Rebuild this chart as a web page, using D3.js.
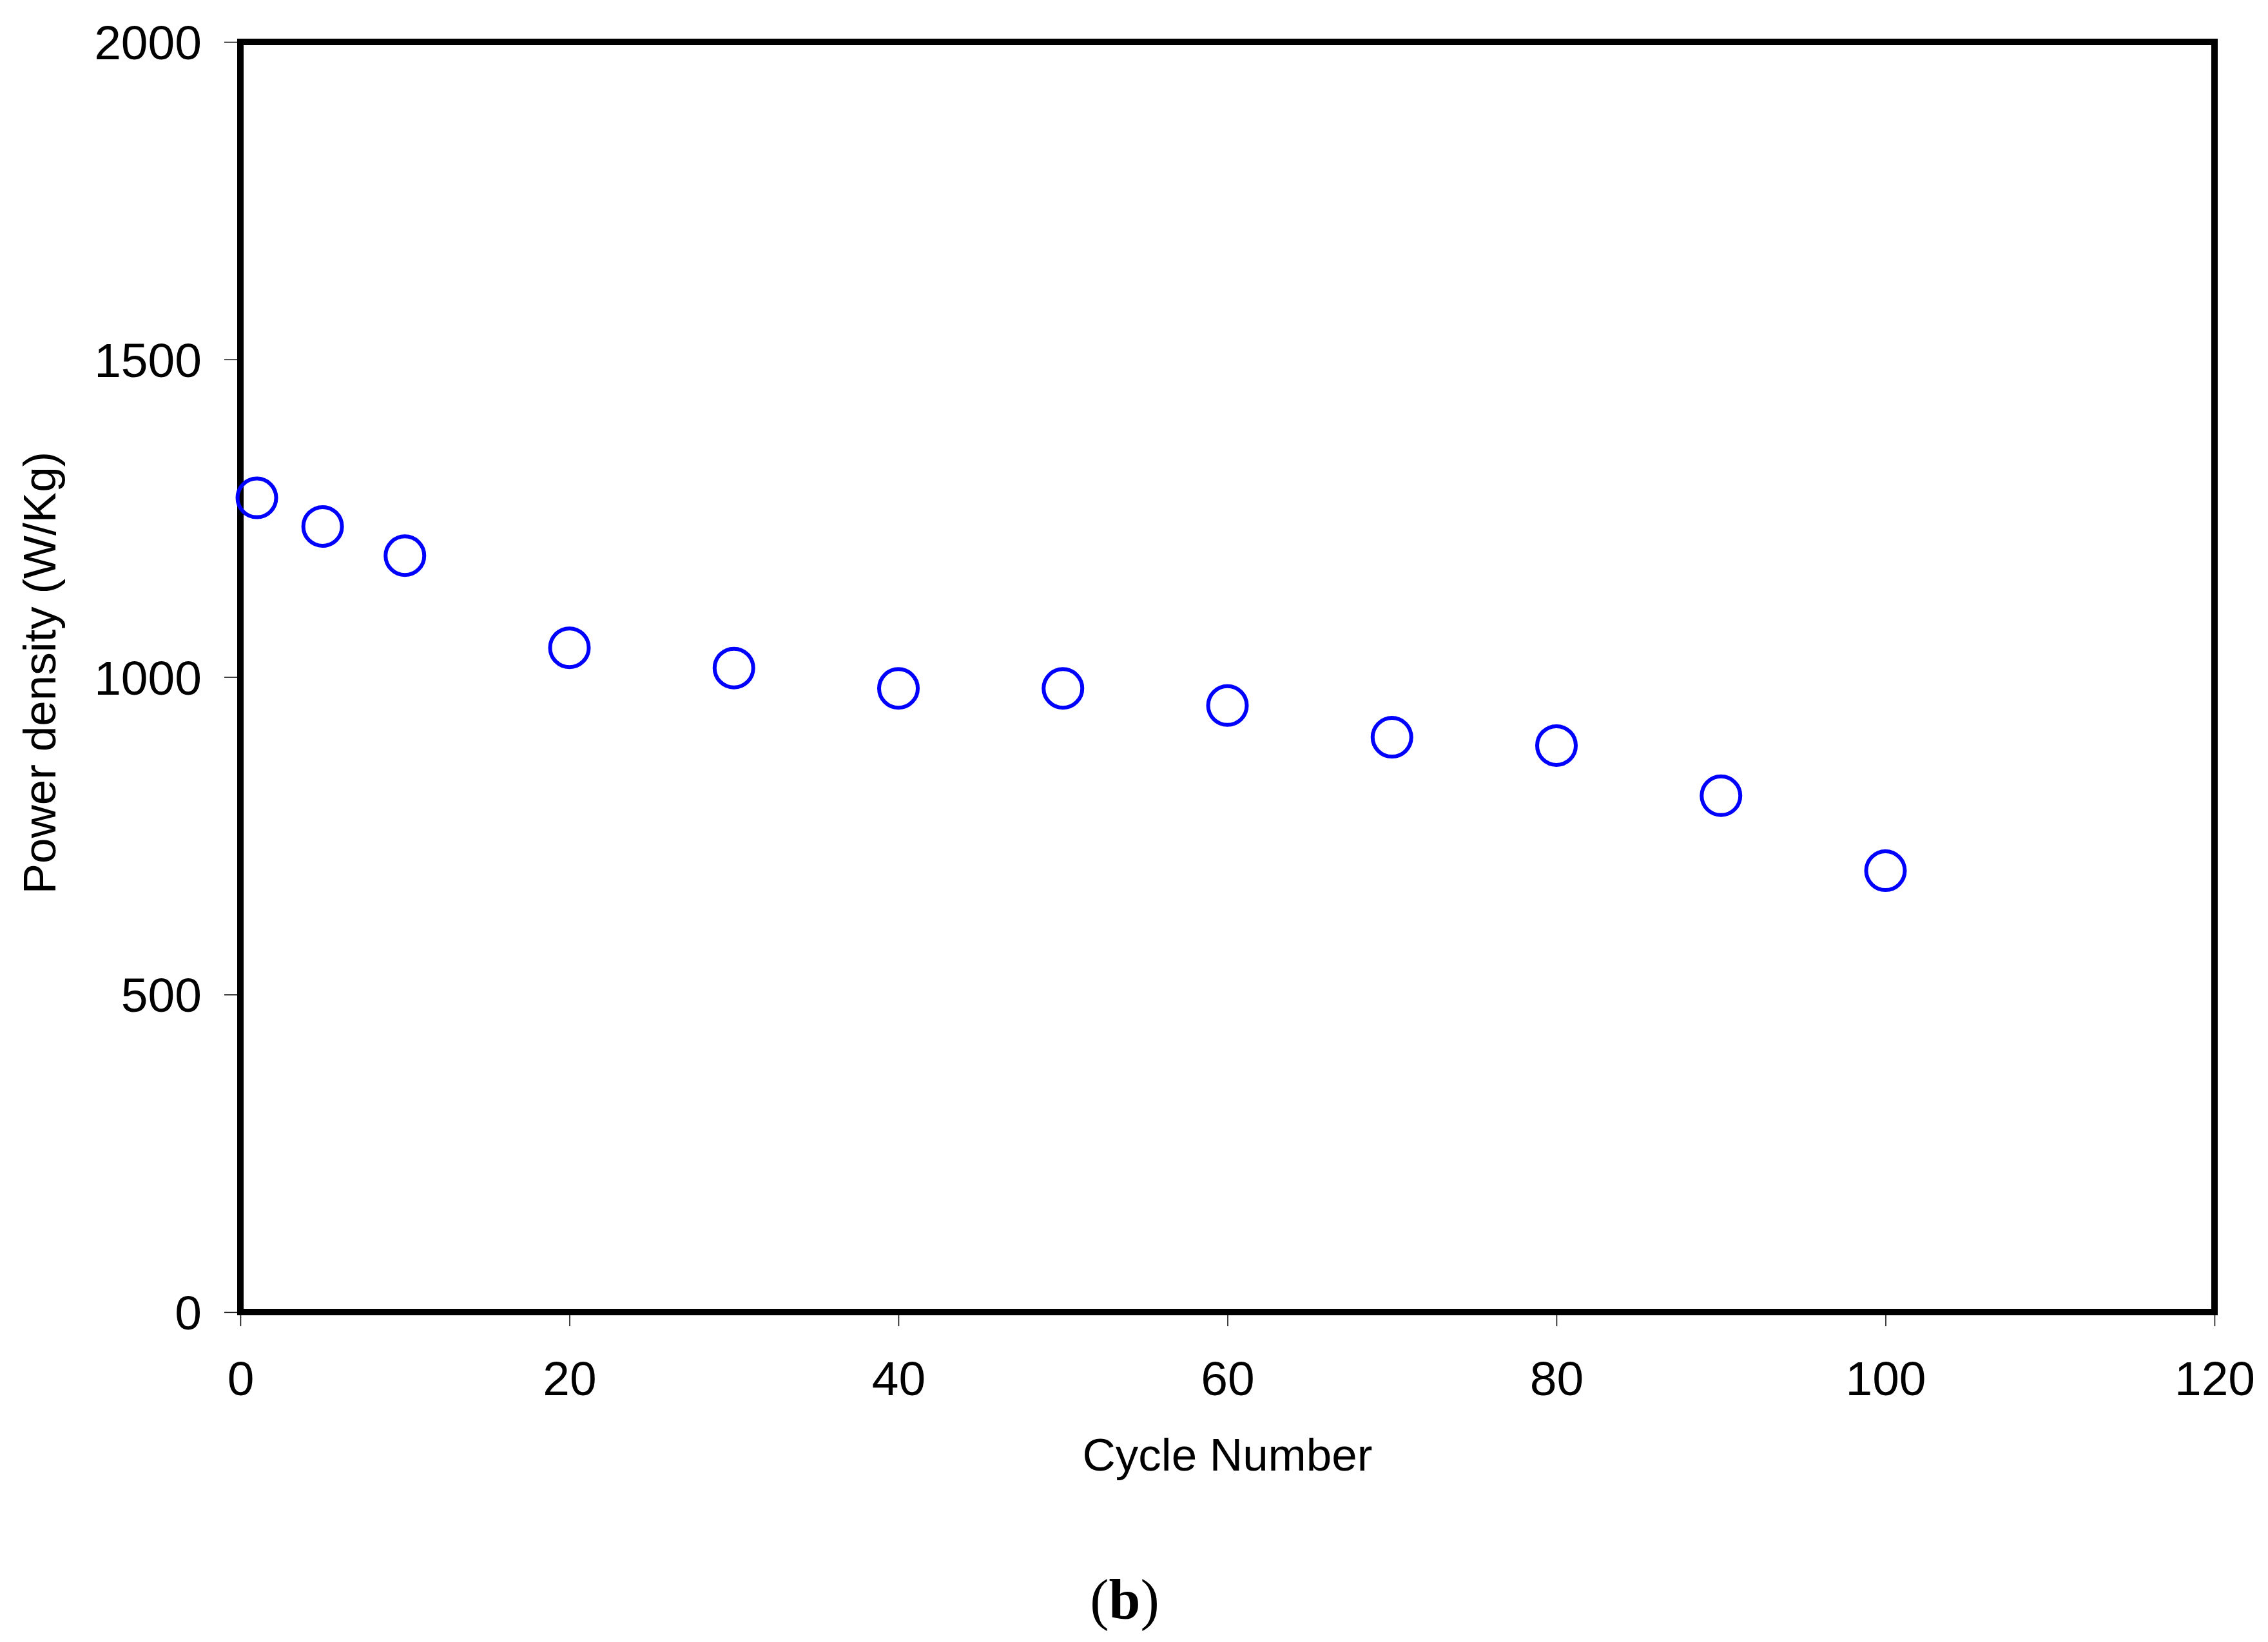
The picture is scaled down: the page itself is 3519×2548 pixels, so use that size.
<!DOCTYPE html>
<html>
<head>
<meta charset="utf-8">
<script src="https://cdn.jsdelivr.net/npm/d3@7"></script>
<style>
  html, body { margin: 0; padding: 0; background: #fff; }
  svg { display: block; }
</style>
</head>
<body>
<svg id="chart" width="3519" height="2548"></svg>
<script>
const cycles = [1, 5, 10, 20, 30, 40, 50, 60, 70, 80, 90, 100];
const powerDensity = [1282, 1237, 1191, 1046, 1014, 982, 982, 955, 905, 892, 813, 695];
const xTicks = [0, 20, 40, 60, 80, 100, 120];
const yTicks = [0, 500, 1000, 1500, 2000];
const xTitle = "Cycle Number";
const yTitle = "Power density (W/Kg)";

(function () {
const W = 3519, H = 2548;
const pLeft = 373, pRight = 3436, pTop = 65, pBottom = 2036;
const font = "'Liberation Sans', Arial, sans-serif";
const fsTick = 75;
const fsTitle = 71;

const svg = d3.select("#chart");
svg.append("rect").attr("width", W).attr("height", H).attr("fill", "#fff");

const x = d3.scaleLinear().domain([0, 120]).range([pLeft, pRight]);
const y = d3.scaleLinear().domain([0, 2000]).range([pBottom, pTop]);

// Y axis
const gy = svg.append("g")
  .attr("transform", `translate(${pLeft},0)`)
  .call(d3.axisLeft(y).tickValues(yTicks).tickFormat(d3.format("d")).tickSize(25).tickSizeOuter(0).tickPadding(35));
gy.select(".domain").remove();
gy.selectAll(".tick line").attr("stroke", "#000").attr("stroke-width", 1.5);
gy.selectAll(".tick text").attr("font-family", font).attr("font-size", fsTick).attr("fill", "#000").attr("dy", "0.355em");

// X axis
const gx = svg.append("g")
  .attr("transform", `translate(0,${pBottom})`)
  .call(d3.axisBottom(x).tickValues(xTicks).tickFormat(d3.format("d")).tickSize(22).tickSizeOuter(0).tickPadding(54));
gx.select(".domain").remove();
gx.selectAll(".tick line").attr("stroke", "#000").attr("stroke-width", 1.5);
gx.selectAll(".tick text").attr("font-family", font).attr("font-size", fsTick).attr("fill", "#000");

// Frame
svg.append("rect")
  .attr("x", pLeft).attr("y", pTop)
  .attr("width", pRight - pLeft).attr("height", pBottom - pTop)
  .attr("fill", "none").attr("stroke", "#000").attr("stroke-width", 10);

// Points
svg.append("g").selectAll("circle")
  .data(cycles.map((c, i) => ({ c, v: powerDensity[i] })))
  .join("circle")
  .attr("cx", d => x(d.c))
  .attr("cy", d => y(d.v))
  .attr("r", 30)
  .attr("fill", "none")
  .attr("stroke", "#0000ff")
  .attr("stroke-width", 6);

// Axis titles
svg.append("text")
  .attr("x", (pLeft + pRight) / 2).attr("y", 2282)
  .attr("text-anchor", "middle")
  .attr("font-family", font).attr("font-size", fsTitle).attr("fill", "#000")
  .text(xTitle);

svg.append("text")
  .attr("transform", `translate(86,1044) rotate(-90)`)
  .attr("text-anchor", "middle")
  .attr("font-family", font).attr("font-size", fsTitle).attr("fill", "#000")
  .text(yTitle);

// Panel label
const lab = svg.append("text")
  .attr("x", 1745).attr("y", 2512)
  .attr("text-anchor", "middle")
  .attr("font-family", "'Liberation Serif', 'Times New Roman', serif")
  .attr("font-size", 88).attr("fill", "#000");
lab.append("tspan").text("(");
lab.append("tspan").attr("font-weight", "bold").text("b");
lab.append("tspan").text(")");
})();
</script>
</body>
</html>
